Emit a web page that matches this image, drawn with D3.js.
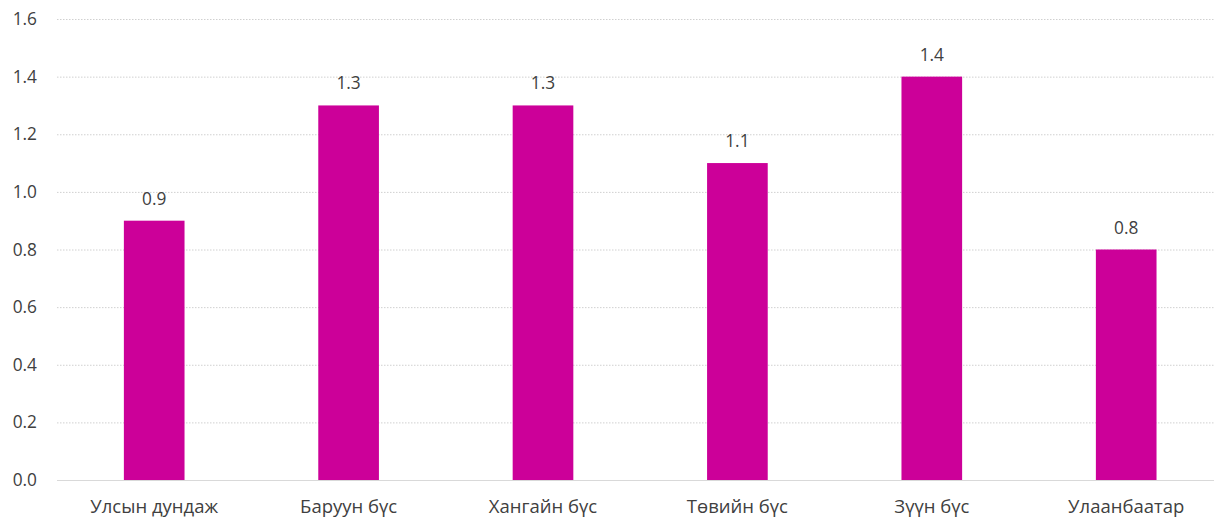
<!DOCTYPE html>
<html><head><meta charset="utf-8">
<script src="https://cdn.jsdelivr.net/npm/d3@7"></script>
<style>body{margin:0;background:#fff;} text{font-family:"Open Sans","Noto Sans",sans-serif;}</style>
</head><body>
<svg id="c" width="1214" height="518"></svg>
<script>
const categories = ["Улсын дундаж","Баруун бүс","Хангайн бүс","Төвийн бүс","Зүүн бүс","Улаанбаатар"];
const values = [0.9,1.3,1.3,1.1,1.4,0.8];
const yTicks = [0,0.2,0.4,0.6,0.8,1.0,1.2,1.4,1.6];

const svg = d3.select("#c");
const x = d3.scaleBand().domain(categories).range([57,1223.4]).paddingInner(0.688).paddingOuter(0.344);
const y = d3.scaleLinear().domain([0,1.6]).range([480,19]);

// gridlines
svg.append("g").selectAll("line").data(yTicks.slice(1)).join("line")
  .attr("x1",57).attr("x2",1223).attr("y1",d=>y(d)+0.5).attr("y2",d=>y(d)+0.5)
  .attr("stroke","#d0d0d0").attr("stroke-width",1).attr("stroke-dasharray","1.5,1.5");

// y axis labels
const yAxis = d3.axisLeft(y).tickValues(yTicks).tickFormat(d3.format(".1f")).tickSize(0).tickPadding(0);
const yg = svg.append("g").attr("transform","translate(37,0)").call(yAxis);
yg.select(".domain").remove();
yg.selectAll("text").attr("font-size",17.3).attr("fill","#404040").style("font-family","'Open Sans',sans-serif");

// bars
svg.append("g").selectAll("rect").data(values).join("rect")
  .attr("x",(d,i)=>x(categories[i])).attr("width",x.bandwidth())
  .attr("y",d=>y(d)).attr("height",d=>y(0)-y(d)).attr("fill","#CC0099");

// baseline
svg.append("line").attr("x1",57).attr("x2",1223).attr("y1",y(0)+0.5).attr("y2",y(0)+0.5)
  .attr("stroke","#d9d9d9").attr("stroke-width",1);

// x axis labels
const xAxis = d3.axisBottom(x).tickSize(0).tickPadding(0);
const xg = svg.append("g").attr("transform","translate(0,513)").call(xAxis);
xg.select(".domain").remove();
xg.selectAll("text").attr("font-size",18.5).attr("fill","#404040").attr("dy","0").style("font-family","'Open Sans',sans-serif");

// value labels
svg.append("g").selectAll("text").data(values).join("text")
  .attr("x",(d,i)=>x(categories[i])+x.bandwidth()/2).attr("y",d=>y(d)-16)
  .attr("text-anchor","middle").attr("font-size",17.3).attr("fill","#404040")
  .text(d=>d3.format(".1f")(d));
</script>
</body></html>
